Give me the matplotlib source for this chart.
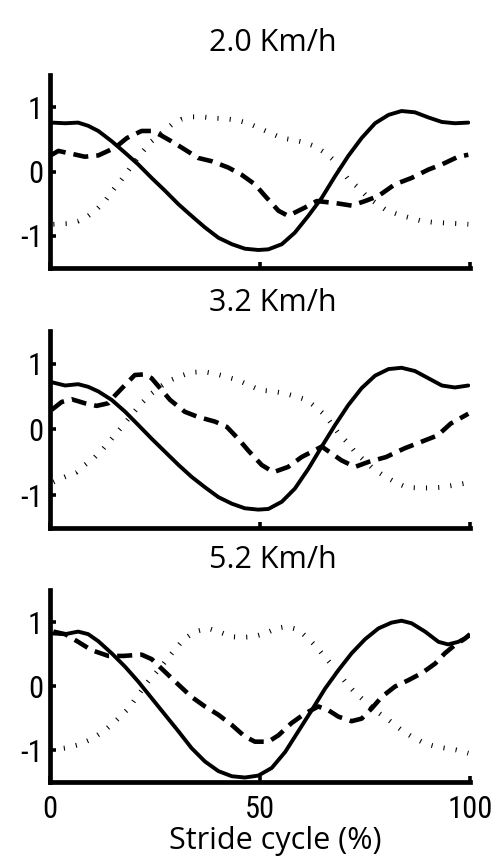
import matplotlib
matplotlib.use("Agg")
import matplotlib.pyplot as plt

plt.rcParams['font.family'] = ['Open Sans', 'DejaVu Sans']

speeds = ["2.0 Km/h", "3.2 Km/h", "5.2 Km/h"]

# Stride cycle (%) sample positions and normalised joint traces per speed
solid_x = [
    [0.4, 3.6, 6.7, 9.1, 11.5, 14.7, 17.9, 21.0, 24.2, 27.4, 30.6, 33.7, 36.9, 40.1, 43.3, 46.4, 49.6,
     52.0, 55.2, 58.3, 61.5, 64.7, 67.9, 71.0, 74.2, 77.4, 80.6, 83.7, 86.9, 90.1, 93.3, 96.4, 99.6],
    [0.4, 3.6, 6.7, 9.1, 11.5, 14.7, 17.9, 21.0, 24.2, 27.4, 30.6, 33.7, 36.9, 40.1, 43.3, 46.4, 49.6,
     52.0, 55.2, 58.3, 61.5, 64.7, 67.9, 71.0, 74.2, 77.4, 80.6, 83.7, 86.9, 90.1, 93.3, 96.4, 99.6],
    [0.8, 3.6, 6.7, 9.1, 11.5, 14.7, 17.9, 21.0, 24.2, 27.4, 30.6, 33.7, 36.9, 40.1, 43.3, 46.4, 49.6,
     52.8, 56.0, 59.1, 62.3, 65.5, 68.7, 71.8, 75.0, 78.2, 81.3, 83.7, 86.1, 89.3, 92.5, 94.8, 97.2, 100],
]
solid_y = [
    [0.76, 0.75, 0.76, 0.71, 0.63, 0.47, 0.29, 0.11, -0.10, -0.30, -0.51, -0.69, -0.87, -1.03, -1.13, -1.20, -1.22,
     -1.21, -1.13, -0.95, -0.69, -0.41, -0.07, 0.24, 0.52, 0.75, 0.88, 0.94, 0.92, 0.84, 0.77, 0.75, 0.76],
    [0.72, 0.67, 0.69, 0.65, 0.58, 0.45, 0.27, 0.07, -0.14, -0.34, -0.54, -0.72, -0.88, -1.03, -1.13, -1.20, -1.22,
     -1.21, -1.10, -0.90, -0.60, -0.26, 0.07, 0.37, 0.63, 0.82, 0.92, 0.94, 0.89, 0.78, 0.67, 0.64, 0.67],
    [0.82, 0.81, 0.85, 0.81, 0.70, 0.51, 0.30, 0.07, -0.19, -0.45, -0.71, -0.97, -1.18, -1.33, -1.41, -1.43, -1.40,
     -1.28, -1.03, -0.71, -0.38, -0.04, 0.25, 0.51, 0.73, 0.90, 0.99, 1.02, 0.98, 0.85, 0.69, 0.65, 0.69, 0.79],
]

dashed_x = [
    [0.4, 2.0, 8.3, 11.5, 15.5, 18.3, 21.8, 24.2, 26.2, 28.9, 31.4, 35.3, 38.5, 42.5, 45.6, 48.8,
     51.2, 54.4, 56.7, 60.7, 63.5, 67.9, 71.8, 75.0, 78.2, 82.1, 86.1, 90.1, 93.3, 97.2, 99.6],
    [0.4, 2.8, 5.2, 8.3, 11.1, 13.9, 15.5, 17.9, 20.2, 22.6, 24.2, 26.2, 28.6, 32.1, 35.3, 39.3, 42.1, 44.8, 47.2,
     50.4, 53.2, 56.7, 59.9, 64.7, 69.4, 72.6, 76.0, 80.0, 84.3, 88.3, 92.3, 95.4, 99.6],
    [0.8, 3.6, 6.7, 9.9, 13.9, 17.5, 21.8, 24.2, 27.4, 30.6, 33.7, 36.9, 40.1, 43.3, 46.4, 48.8, 52.0,
     54.4, 57.5, 60.7, 63.9, 66.3, 68.7, 71.8, 74.2, 76.6, 79.0, 82.1, 85.3, 88.5, 91.7, 94.0, 96.4, 98.8, 100],
]
dashed_y = [
    [0.26, 0.32, 0.23, 0.25, 0.37, 0.52, 0.63, 0.63, 0.57, 0.47, 0.37, 0.21, 0.16, 0.06, -0.05, -0.20,
     -0.38, -0.61, -0.69, -0.56, -0.46, -0.49, -0.53, -0.46, -0.38, -0.20, -0.10, 0.03, 0.11, 0.23, 0.26],
    [0.30, 0.42, 0.46, 0.40, 0.36, 0.40, 0.52, 0.68, 0.83, 0.84, 0.78, 0.63, 0.45, 0.27, 0.19, 0.12, 0.04, -0.14, -0.32,
     -0.54, -0.65, -0.57, -0.42, -0.26, -0.47, -0.57, -0.49, -0.42, -0.29, -0.19, -0.09, 0.09, 0.24],
    [0.85, 0.81, 0.69, 0.56, 0.47, 0.47, 0.49, 0.42, 0.22, 0.02, -0.17, -0.32, -0.45, -0.61, -0.79, -0.87, -0.87,
     -0.77, -0.58, -0.43, -0.32, -0.38, -0.48, -0.55, -0.51, -0.35, -0.17, -0.01, 0.09, 0.20, 0.35, 0.51, 0.64, 0.74, 0.81],
]

dotted_x = [
    [0.8, 4.0, 6.7, 9.1, 11.1, 13.1, 15.1, 17.1, 19.4, 21.8, 24.2, 26.6, 29.0, 31.3, 33.7, 36.1, 38.9, 41.7, 44.4,
     47.2, 49.6, 52.4, 55.2, 58.0, 60.7, 63.1, 65.5, 67.9, 71.0, 73.4, 75.8, 79.8, 82.9, 85.7, 88.5, 91.3, 94.0, 97.2, 99.6],
    [0.8, 3.6, 6.3, 8.3, 10.7, 12.7, 14.7, 17.1, 19.4, 21.8, 24.2, 26.2, 28.6, 31.3, 33.7, 36.5, 39.3, 42.1, 44.8,
     47.2, 50.0, 53.2, 55.9, 58.7, 61.1, 63.1, 65.5, 68.7, 71.0, 72.6, 77.0, 79.4, 82.1, 84.9, 87.7, 90.5, 93.3, 96.0, 98.8],
    [0.4, 3.6, 6.7, 9.9, 13.1, 15.9, 18.7, 21.0, 23.4, 26.2, 29.0, 31.7, 34.5, 37.7, 40.5, 43.3, 45.6, 48.4, 51.2,
     53.9, 56.3, 59.1, 61.5, 63.5, 65.1, 67.1, 68.7, 70.6, 72.6, 75.0, 77.4, 80.6, 83.7, 86.1, 89.3, 92.1, 94.0, 96.8, 99.6],
]
dotted_y = [
    [-0.82, -0.81, -0.77, -0.69, -0.59, -0.46, -0.28, -0.12, 0.08, 0.29, 0.47, 0.60, 0.73, 0.81, 0.85, 0.85, 0.83, 0.82, 0.80,
     0.75, 0.68, 0.60, 0.52, 0.49, 0.45, 0.39, 0.29, 0.16, -0.12, -0.25, -0.41, -0.59, -0.67, -0.72, -0.77, -0.79, -0.80, -0.81, -0.82],
    [-0.80, -0.72, -0.65, -0.54, -0.42, -0.29, -0.14, 0.04, 0.22, 0.40, 0.55, 0.65, 0.75, 0.82, 0.87, 0.88, 0.85, 0.80, 0.75,
     0.68, 0.60, 0.58, 0.55, 0.50, 0.45, 0.35, 0.22, -0.06, -0.21, -0.34, -0.60, -0.70, -0.80, -0.88, -0.89, -0.89, -0.88, -0.85, -0.82],
    [-1.00, -0.97, -0.92, -0.83, -0.69, -0.53, -0.35, -0.14, 0.07, 0.28, 0.51, 0.72, 0.85, 0.90, 0.84, 0.77, 0.76, 0.77, 0.82,
     0.90, 0.93, 0.88, 0.74, 0.61, 0.48, 0.33, 0.20, 0.04, -0.10, -0.24, -0.38, -0.53, -0.69, -0.79, -0.90, -0.95, -0.97, -1.00, -1.05],
]

x_ticks = [0, 50, 100]
y_ticks = [-1, 0, 1]
y_tick_labels = ["-1", "0", "1"]
x_label = "Stride cycle (%)"

# narrow face for the numbers, with plain fallbacks
tick_font = ['Roboto Condensed', 'PT Sans Narrow', 'Liberation Sans', 'DejaVu Sans']

fig = plt.figure(figsize=(4.99, 8.56), dpi=100)

W, H = 499, 856
left, right = 50, 470
panel_px = [(75, 268), (331, 528), (590, 782)]
title_y_px = [43, 303, 560]

for i in range(3):
    top, bottom = panel_px[i]
    ax = fig.add_axes([left / W, 1 - bottom / H, (right - left) / W, (bottom - top) / H])

    ax.plot(solid_x[i], solid_y[i], color="black", lw=2.8,
            solid_capstyle="round", solid_joinstyle="round")
    ax.plot(dashed_x[i], dashed_y[i], color="black", lw=3.3,
            linestyle=(0, (3.3, 1.75)), dash_capstyle="butt", dash_joinstyle="round")
    ax.plot(dotted_x[i], dotted_y[i], color="black", lw=3.5,
            linestyle=(0, (0.22, 2.3)), dash_capstyle="butt")

    ax.set_xlim(0, 100)
    ax.set_ylim(-1.5, 1.5)
    for s in ("top", "right"):
        ax.spines[s].set_visible(False)
    for s in ("left", "bottom"):
        ax.spines[s].set_linewidth(3.4)
        ax.spines[s].set_capstyle("projecting")
    ax.set_xticks(x_ticks)
    ax.set_yticks(y_ticks)
    ax.set_yticklabels(y_tick_labels)
    ax.tick_params(direction="in", length=4, width=2.6, labelsize=22,
                   labelfontfamily=tick_font)
    ax.tick_params(axis="y", pad=5)
    ax.tick_params(axis="x", pad=9)
    if i < 2:
        ax.set_xticklabels([])
    else:
        ax.set_xlabel(x_label, fontsize=22, va="top")
        ax.xaxis.set_label_coords(0.536, -0.228)

    fig.text(273 / W, 1 - title_y_px[i] / H, speeds[i], fontsize=22,
             ha="center", va="center")

fig.savefig("out.png", dpi=100)
